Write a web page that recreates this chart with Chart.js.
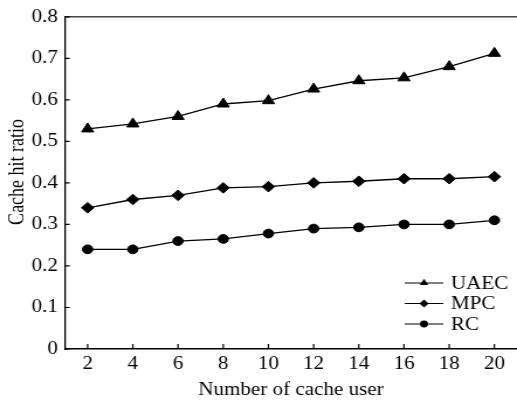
<!DOCTYPE html>
<html>
<head>
<meta charset="utf-8">
<script src="https://cdn.jsdelivr.net/npm/chart.js@4/dist/chart.umd.min.js"></script>
<style>
  html, body { margin: 0; padding: 0; background: #fff; overflow: hidden; }
  #wrap { width: 442px; height: 401px; transform: scaleX(1.1697); transform-origin: 0 0; }
</style>
</head>
<body>
<div id="wrap"><canvas id="chart"></canvas></div>
<script>
const users = [2, 4, 6, 8, 10, 12, 14, 16, 18, 20];
const uaec = [0.53, 0.542, 0.56, 0.59, 0.598, 0.626, 0.646, 0.653, 0.68, 0.712];
const mpc = [0.34, 0.36, 0.37, 0.388, 0.391, 0.4, 0.404, 0.41, 0.41, 0.415];
const rc = [0.24, 0.24, 0.26, 0.265, 0.278, 0.29, 0.293, 0.3, 0.3, 0.31];
const yTicks = [0, 0.1, 0.2, 0.3, 0.4, 0.5, 0.6, 0.7, 0.8];

const FONT = "'Liberation Serif', 'Times New Roman', serif";

function series(label, values, style, radius) {
  return {
    label,
    data: users.map((u, i) => ({ x: u, y: values[i] })),
    borderColor: "#000",
    borderWidth: 1.3,
    backgroundColor: "#000",
    pointStyle: style,
    pointRadius: radius,
    pointBorderWidth: 1,
    pointBackgroundColor: "#000",
    pointBorderColor: "#000",
    tension: 0,
  };
}

function marker(ctx, style, x, y, r) {
  ctx.beginPath();
  if (style === "triangle") {
    ctx.moveTo(x, y - r);
    ctx.lineTo(x + r * 0.866, y + r * 0.5);
    ctx.lineTo(x - r * 0.866, y + r * 0.5);
  } else if (style === "rectRot") {
    ctx.moveTo(x - r, y);
    ctx.lineTo(x, y - r);
    ctx.lineTo(x + r, y);
    ctx.lineTo(x, y + r);
  } else {
    ctx.arc(x, y, r, 0, Math.PI * 2);
  }
  ctx.closePath();
  ctx.fill();
}

// top frame, inward ticks, y title and the legend inside the plot
const frameAndLegend = {
  id: "frameAndLegend",
  afterDraw(chart) {
    const { ctx, chartArea: a, scales } = chart;
    ctx.save();
    ctx.strokeStyle = "#444";
    ctx.lineWidth = 1.5;
    ctx.beginPath();
    ctx.moveTo(a.left, a.top);
    ctx.lineTo(a.right, a.top);
    ctx.stroke();

    ctx.strokeStyle = "#000";
    ctx.lineWidth = 1.2;
    ctx.beginPath();
    scales.x.ticks.forEach((t) => {
      const px = scales.x.getPixelForValue(t.value);
      ctx.moveTo(px, a.bottom);
      ctx.lineTo(px, a.bottom - 5);
    });
    scales.y.ticks.forEach((t) => {
      const py = scales.y.getPixelForValue(t.value);
      ctx.moveTo(a.left, py);
      ctx.lineTo(a.left + 4, py);
    });
    ctx.stroke();

    ctx.font = "18px " + FONT;
    ctx.fillStyle = "#000";

    // y title sits a little above the middle in the original
    ctx.save();
    ctx.translate(15, (a.top + a.bottom) / 2 - 11);
    ctx.rotate(-Math.PI / 2);
    ctx.textAlign = "center";
    ctx.textBaseline = "middle";
    ctx.fillText("Cache hit ratio", 0, 0);
    ctx.restore();

    const items = [
      ["UAEC", "triangle", 4.2],
      ["MPC", "rectRot", 4],
      ["RC", "circle", 3.4],
    ];
    ctx.textBaseline = "middle";
    ctx.textAlign = "left";
    items.forEach(([name, style, r], i) => {
      const y = a.bottom - 66 + i * 20.5;
      ctx.lineWidth = 1.2;
      ctx.beginPath();
      ctx.moveTo(a.right - 96, y);
      ctx.lineTo(a.right - 63, y);
      ctx.stroke();
      marker(ctx, style, a.right - 79.5, y, r);
      ctx.fillText(name, a.right - 56.5, y + 1);
    });
    ctx.restore();
  },
};

new Chart(document.getElementById("chart"), {
  type: "line",
  data: {
    datasets: [
      series("UAEC", uaec, "triangle", 6),
      series("MPC", mpc, "rectRot", 5.3),
      series("RC", rc, "circle", 4.4),
    ],
  },
  options: {
    responsive: true,
    maintainAspectRatio: false,
    animation: false,
    layout: { autoPadding: false, padding: { top: 15, right: 0, left: 0, bottom: 0 } },
    plugins: {
      legend: { display: false },
      tooltip: { enabled: false },
    },
    scales: {
      x: {
        type: "linear",
        min: 1,
        max: 21,
        afterBuildTicks: (s) => {
          s.ticks = users.map((v) => ({ value: v }));
        },
        afterFit: (s) => {
          s.height = 52;
          s.paddingLeft = 0;
          s.paddingRight = 0;
        },
        grid: { display: false, drawTicks: false },
        border: { color: "#000", width: 1.5 },
        ticks: {
          color: "#000",
          padding: 4,
          maxRotation: 0,
          font: { family: FONT, size: 18 },
        },
        title: {
          display: true,
          text: "Number of cache user",
          color: "#000",
          font: { family: FONT, size: 18 },
          padding: { top: 0, bottom: 0 },
        },
      },
      y: {
        min: 0,
        max: 0.8,
        afterBuildTicks: (s) => {
          s.ticks = yTicks.map((v) => ({ value: v }));
        },
        afterFit: (s) => {
          s.width = 55.6;
        },
        grid: { display: false, drawTicks: false },
        border: { color: "#000", width: 1.3 },
        ticks: {
          color: "#000",
          padding: 6,
          font: { family: FONT, size: 18 },
          callback: (v) => String(Math.round(v * 10) / 10),
        },
        title: { display: false },
      },
    },
  },
  plugins: [frameAndLegend],
});
</script>
</body>
</html>
